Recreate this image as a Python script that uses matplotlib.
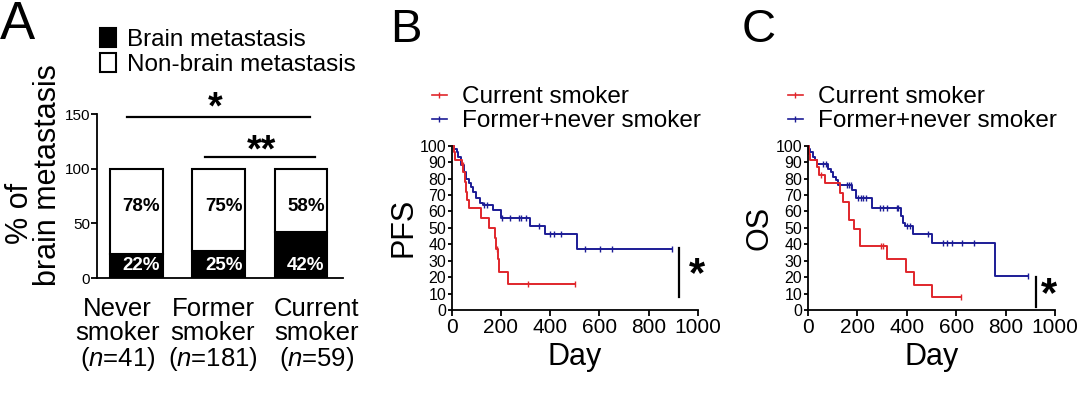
import matplotlib

matplotlib.use("Agg")
import matplotlib.pyplot as plt
import numpy as np
from matplotlib.lines import Line2D
from matplotlib.patches import Patch

plt.rcParams["font.family"] = ["Liberation Sans", "DejaVu Sans"]
plt.rcParams["mathtext.fontset"] = "custom"
plt.rcParams["mathtext.rm"] = "Liberation Sans"
plt.rcParams["mathtext.it"] = "Liberation Sans:italic"

# ---- panel A data ----
groups = ["Never\nsmoker\n($\\it{n}$=41)", "Former\nsmoker\n($\\it{n}$=181)", "Current\nsmoker\n($\\it{n}$=59)"]
brain_pct = [22, 25, 42]
non_brain_pct = [78, 75, 58]

# ---- panel B: PFS (step times in days, survival % after each step) ----
pfs_current_t = [0, 8, 14, 40, 46, 52, 58, 64, 72, 119, 153, 176, 181, 186, 194, 227, 500]
pfs_current_s = [100, 96, 91, 88, 84, 78, 72, 67, 62, 56, 50, 44, 37, 31, 23, 15.6, 15.6]
pfs_current_cens = [44, 183, 308, 500]
pfs_other_t = [0, 10, 20, 26, 39, 50, 59, 69, 77, 86, 100, 113, 127, 169, 201, 317, 378, 507, 896]
pfs_other_s = [100, 98, 96, 93, 88, 84, 80, 77, 75, 72, 68, 65, 64, 61, 56, 51, 46, 37, 37]
pfs_other_cens = [131, 143, 205, 237, 275, 282, 302, 355, 398, 414, 445, 541, 603, 649, 896]

# ---- panel C: OS ----
os_current_t = [0, 4, 10, 38, 45, 69, 130, 144, 168, 187, 212, 320, 396, 430, 504, 620]
os_current_s = [100, 95, 91, 87, 82, 77, 71, 66, 55, 49, 39, 31, 23, 15.5, 8, 8]
os_current_cens = [55, 295, 306, 620]
os_other_t = [0, 5, 10, 20, 30, 39, 83, 94, 104, 115, 124, 178, 196, 259, 376, 384, 393, 427, 501, 758, 892]
os_other_s = [100, 98, 96, 93, 91, 89, 86, 84, 81, 79, 76, 73, 68, 62, 57, 53, 51, 46, 41, 20.5, 20.5]
os_other_cens = [60, 75, 158, 167, 174, 205, 214, 225, 236, 293, 306, 319, 360, 367, 400, 413, 488,
                 549, 562, 582, 622, 674, 892]

RED = "#e0262b"
BLUE = "#1c1c96"
W, H = 1080, 393


def fx(px):
    return px / W


def fy(py):
    return 1 - py / H


def step_value(times, surv, t):
    idx = np.searchsorted(times, t, side="right") - 1
    return np.asarray(surv)[idx]


def km_panel(ax, cur_t, cur_s, cur_c, oth_t, oth_s, oth_c, ylabel):
    for t, s, c, color in [(oth_t, oth_s, oth_c, BLUE), (cur_t, cur_s, cur_c, RED)]:
        ax.plot(t, s, drawstyle="steps-post", color=color, linewidth=1.4, clip_on=False)
        ax.plot(c, step_value(t, s, c), linestyle="none", marker="|", markersize=5,
                markeredgewidth=1.0, color=color, clip_on=False)
    ax.set_xlim(0, 1000)
    ax.set_ylim(0, 100)
    ax.set_xticks(range(0, 1001, 200))
    ax.set_yticks(range(0, 101, 10))
    ax.tick_params(axis="x", labelsize=15, length=4, width=1.3, pad=2)
    ax.tick_params(axis="y", labelsize=11.5, length=3, width=1.3, pad=1)
    for side in ["top", "right"]:
        ax.spines[side].set_visible(False)
    for side in ["left", "bottom"]:
        ax.spines[side].set_linewidth(1.3)
    ax.set_xlabel("Day", fontsize=22, labelpad=3)
    ax.set_ylabel(ylabel, fontsize=22, labelpad=1)
    handles = [
        Line2D([], [], color=RED, linewidth=1.2, marker="|", markersize=5),
        Line2D([], [], color=BLUE, linewidth=1.2, marker="|", markersize=5),
    ]
    return handles


fig = plt.figure(figsize=(W / 100, H / 100), dpi=100)

# ---------------- panel A ----------------
axA = fig.add_axes([fx(97), fy(278), fx(246), 164 / H])
x = np.arange(len(groups))
axA.bar(x, brain_pct, width=0.64, color="black", edgecolor="black", linewidth=1.5)
axA.bar(x, non_brain_pct, bottom=brain_pct, width=0.64, color="white", edgecolor="black", linewidth=1.5)
for xi, b, nb in zip(x, brain_pct, non_brain_pct):
    axA.text(xi + 0.06, 11, f"{b}%", color="white", fontsize=13.5, fontweight="bold", ha="center", va="center")
    axA.text(xi + 0.06, 65, f"{nb}%", color="black", fontsize=13.5, fontweight="bold", ha="center", va="center")
axA.set_xlim(-0.48, 2.51)
axA.set_ylim(0, 150)
axA.set_yticks([0, 50, 100, 150])
axA.set_xticks([])
axA.tick_params(axis="y", labelsize=11, length=4, width=1.3, pad=1)
for side in ["top", "right"]:
    axA.spines[side].set_visible(False)
for side in ["left", "bottom"]:
    axA.spines[side].set_linewidth(1.3)

label_x = [-0.23, 0.93, 2.19]
for lx, g in zip(label_x, groups):
    axA.text(lx, -0.115, g, transform=axA.get_xaxis_transform(), ha="center", va="top",
             fontsize=18.5, linespacing=1.0)

# significance bars
axA.plot([-0.12, 2.11], [147, 147], color="black", linewidth=1.6, clip_on=False)
axA.text(0.95, 146, "*", fontsize=27, fontweight="bold", ha="center", va="baseline")
axA.plot([0.83, 2.17], [110.5, 110.5], color="black", linewidth=1.6, clip_on=False)
axA.text(1.52, 107, "**", fontsize=27, fontweight="bold", ha="center", va="baseline")

fig.text(fx(48), fy(175), "brain metastasis", rotation=90, fontsize=22, ha="center", va="center")
fig.text(fx(20), fy(213), "% of", rotation=90, fontsize=22, ha="center", va="center")

axA.legend(
    [Patch(facecolor="black", edgecolor="black", linewidth=1.5),
     Patch(facecolor="white", edgecolor="black", linewidth=1.5)],
    ["Brain metastasis", "Non-brain metastasis"],
    loc="upper left", bbox_to_anchor=(fx(100), fy(28)), bbox_transform=fig.transFigure,
    frameon=False, fontsize=17.5, handlelength=0.65, handleheight=0.8, handletextpad=0.45,
    labelspacing=0.1, borderpad=0, borderaxespad=0,
)

# ---------------- panel B ----------------
axB = fig.add_axes([fx(451.7), fy(310), 246.3 / W, 164.3 / H])
hB = km_panel(axB, pfs_current_t, pfs_current_s, pfs_current_cens,
              pfs_other_t, pfs_other_s, pfs_other_cens, "PFS")
axB.plot([922, 922], [8, 38], color="black", linewidth=1.6, clip_on=False)
axB.text(995, 21, "*", fontsize=30, fontweight="bold", ha="center", va="center")
axB.legend(hB, ["Current smoker", "Former+never smoker"], loc="upper left",
           bbox_to_anchor=(fx(432), fy(86)), bbox_transform=fig.transFigure, frameon=False,
           fontsize=17.5, handlelength=0.6, handletextpad=0.65, labelspacing=0.1,
           borderpad=0, borderaxespad=0)

# ---------------- panel C ----------------
axC = fig.add_axes([fx(807.7), fy(310), 247.3 / W, 164.3 / H])
hC = km_panel(axC, os_current_t, os_current_s, os_current_cens,
              os_other_t, os_other_s, os_other_cens, "OS")
axC.plot([922, 922], [2, 20], color="black", linewidth=1.6, clip_on=False)
axC.text(975, 9, "*", fontsize=30, fontweight="bold", ha="center", va="center")
axC.legend(hC, ["Current smoker", "Former+never smoker"], loc="upper left",
           bbox_to_anchor=(fx(788), fy(86)), bbox_transform=fig.transFigure, frameon=False,
           fontsize=17.5, handlelength=0.6, handletextpad=0.65, labelspacing=0.1,
           borderpad=0, borderaxespad=0)

# panel letters
fig.text(fx(0), fy(0), "A", fontsize=38, ha="left", va="top")
fig.text(fx(390), fy(8), "B", fontsize=34, ha="left", va="top")
fig.text(fx(742), fy(8), "C", fontsize=34, ha="left", va="top")

fig.savefig("out.png", dpi=100)
plt.close(fig)
